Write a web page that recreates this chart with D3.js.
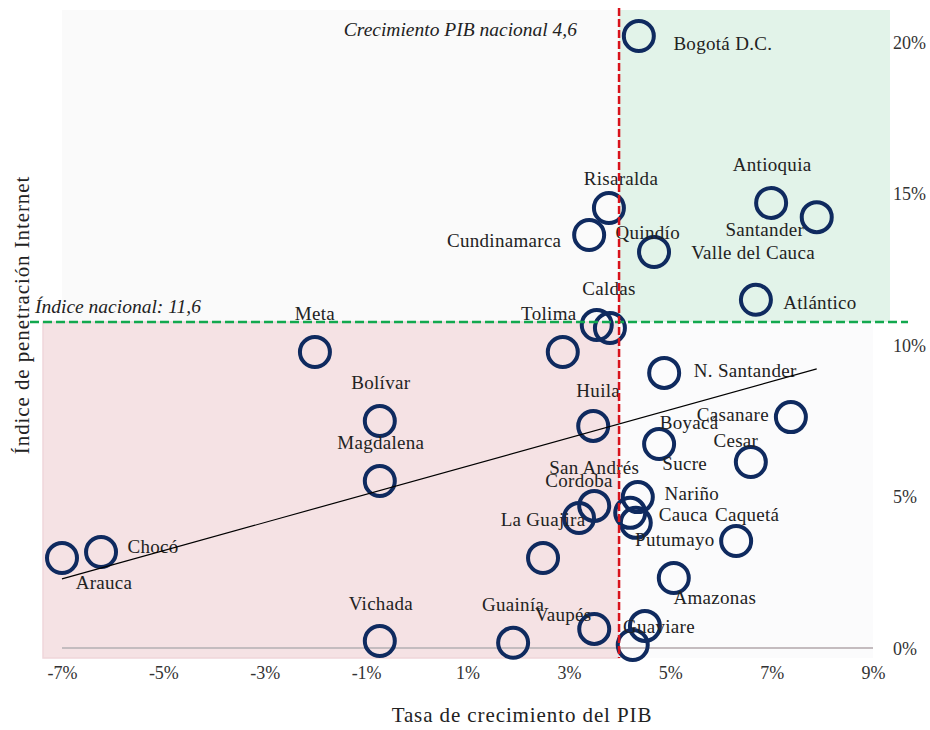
<!DOCTYPE html>
<html>
<head>
<meta charset="utf-8">
<script src="https://cdn.jsdelivr.net/npm/d3@7"></script>
<style>
  html, body { margin: 0; padding: 0; background: #ffffff; }
  svg { display: block; }
  text { font-family: "Liberation Serif", "Times New Roman", serif; fill: #222; }
</style>
</head>
<body>
<div id="chart"></div>
<script>
// ---------------- DATA ----------------
const departments = ["Bogotá D.C.","Risaralda","Cundinamarca","Valle del Cauca","Antioquia","Santander","Atlántico","Quindío","Caldas","Tolima","Meta","Bolívar","Huila","N. Santander","Casanare","Boyacá","Cesar","Magdalena","San Andrés","Cordoba","Nariño","Cauca","Putumayo","Caquetá","La Guajira","Amazonas","Chocó","Arauca","Vichada","Guainía","Vaupés","Guaviare","Sucre"];
const growth      = [4.38,3.79,3.40,4.68,6.99,7.89,6.69,3.55,3.81,2.88,-2.01,-0.73,3.48,4.88,7.38,4.78,6.59,-0.73,3.50,3.20,4.36,4.21,4.32,6.30,2.49,5.07,-6.23,-7.00,-0.73,1.90,3.50,4.50,4.26];
const penetration = [20.20,14.52,13.63,13.07,14.69,14.22,11.49,10.66,10.56,9.77,9.77,7.49,7.33,9.08,7.62,6.73,6.14,5.51,4.69,4.29,4.98,4.46,4.13,3.53,2.97,2.31,3.17,2.97,0.23,0.17,0.63,0.73,0.10];
const xTicks = [-7,-5,-3,-1,1,3,5,7,9];
const yTicks = [0,5,10,15,20];
const trendGrowth = [-7.0, 7.89];
const trendPenetration = [2.28, 9.21];
const refGrowth = 3.99;        // position of national growth reference line
const refPenetration = 10.76;  // position of national internet index line
const refGrowthLabel = "Crecimiento PIB nacional 4,6";
const refPenetrationLabel = "Índice nacional: 11,6";
const xTitle = "Tasa de crecimiento del PIB";
const yTitle = "Índice de penetración Internet";

// label placement offsets (px) relative to each circle
const labelOffsets = [[84,7],[12,-30],[-85,5],[99,0],[1,-39],[-52,12],[64,2],[51,-93],[-1,-40],[-14,-39],[0,-39],[1,-39],[5,-36],[81,-3],[-58,-3],[30,-22],[-15,-22],[1,-39],[0,-39],[0,-38],[54,-4],[53,1],[39,16],[11,-27],[0,-39],[41,19],[52,-6],[42,24],[1,-38],[0,-38],[-31,-15],[14,0],[52,-182]];

// ---------------- CHART ----------------
const W = 930, H = 730;
const svg = d3.select("#chart").append("svg").attr("width", W).attr("height", H);

const x = d3.scaleLinear().domain([-7, 9]).range([62, 873]);
const y = d3.scaleLinear().domain([0, 20]).range([648, 42]);

const data = departments.map((d, i) => ({ name: d, g: growth[i], p: penetration[i], off: labelOffsets[i] }));

// quadrant backgrounds
const yTop = y.invert(10), yBot = y.invert(658);
const quads = [
  { x0: -7,              x1: refGrowth, y0: refPenetration, y1: yTop, fill: "#fafafa", stroke: "none" },
  { x0: refGrowth,       x1: x.invert(890), y0: refPenetration, y1: yTop, fill: "#e2f3e9", stroke: "none" },
  { x0: x.invert(43),    x1: refGrowth, y0: yBot, y1: refPenetration, fill: "#f5e2e4", stroke: "#efd6da" },
  { x0: refGrowth,       x1: 9,  y0: yBot, y1: refPenetration, fill: "#fbfbfc", stroke: "none" }
];
svg.append("g").selectAll("rect").data(quads).join("rect")
  .attr("x", d => x(d.x0)).attr("y", d => y(d.y1))
  .attr("width", d => x(d.x1) - x(d.x0)).attr("height", d => y(d.y0) - y(d.y1))
  .attr("fill", d => d.fill).attr("stroke", d => d.stroke).attr("stroke-width", 1.5);

// zero baseline
svg.append("line")
  .attr("x1", x(-7)).attr("x2", x(9)).attr("y1", y(0)).attr("y2", y(0))
  .attr("stroke", "#c4bcbf").attr("stroke-width", 2);

// axes
const xAxis = svg.append("g").attr("transform", "translate(0,0)")
  .call(d3.axisBottom(x).tickValues(xTicks).tickSize(0).tickFormat(d => d + "%"));
xAxis.select(".domain").remove();
xAxis.selectAll("text").attr("y", 673).attr("dy", "0.35em")
  .style("font-family", '"Liberation Serif", serif').style("font-size", "18px").style("fill", "#333");

const yAxis = svg.append("g").attr("transform", "translate(893,0)")
  .call(d3.axisRight(y).tickValues(yTicks).tickSize(0).tickFormat(d => d + "%"));
yAxis.select(".domain").remove();
yAxis.selectAll("text").attr("x", 0).attr("dy", "0.35em").attr("text-anchor", "start")
  .style("font-family", '"Liberation Serif", serif').style("font-size", "18px").style("fill", "#333");

// circles
svg.append("g").selectAll("circle").data(data).join("circle")
  .attr("cx", d => x(d.g)).attr("cy", d => y(d.p)).attr("r", 15)
  .attr("fill", "none").attr("stroke", "#0f2a5f").attr("stroke-width", 4);

// labels
svg.append("g").selectAll("text").data(data).join("text")
  .attr("x", d => x(d.g) + d.off[0]).attr("y", d => y(d.p) + d.off[1])
  .attr("dy", "0.35em").attr("text-anchor", "middle")
  .style("font-size", "19px").style("letter-spacing", "0.3px").style("fill", "#222")
  .text(d => d.name);

// trend line
svg.append("line")
  .attr("x1", x(trendGrowth[0])).attr("y1", y(trendPenetration[0]))
  .attr("x2", x(trendGrowth[1])).attr("y2", y(trendPenetration[1]))
  .attr("stroke", "#000").attr("stroke-width", 1.2);

// reference lines
svg.append("line")
  .attr("x1", x.invert ? 30 : 30).attr("x2", 908)
  .attr("y1", y(refPenetration)).attr("y2", y(refPenetration))
  .attr("stroke", "#12a84e").attr("stroke-width", 2.5).attr("stroke-dasharray", "9,4");
svg.append("line")
  .attr("x1", x(refGrowth)).attr("x2", x(refGrowth))
  .attr("y1", 8).attr("y2", 658)
  .attr("stroke", "#d8121b").attr("stroke-width", 2.5).attr("stroke-dasharray", "8,3");

// reference annotations
svg.append("text").attr("x", 577).attr("y", 29).attr("dy", "0.35em").attr("text-anchor", "end")
  .style("font-style", "italic").style("font-size", "19.5px").text(refGrowthLabel);
svg.append("text").attr("x", 35).attr("y", 306).attr("dy", "0.35em").attr("text-anchor", "start")
  .style("font-style", "italic").style("font-size", "19.5px").text(refPenetrationLabel);

// axis titles
svg.append("text").attr("x", 522).attr("y", 715).attr("dy", "0.35em").attr("text-anchor", "middle")
  .style("font-size", "21px").style("letter-spacing", "0.9px").text(xTitle);
svg.append("text").attr("transform", "translate(22,315) rotate(-90)").attr("dy", "0.35em")
  .attr("text-anchor", "middle")
  .style("font-size", "21px").style("letter-spacing", "0.9px").text(yTitle);
</script>
</body>
</html>
